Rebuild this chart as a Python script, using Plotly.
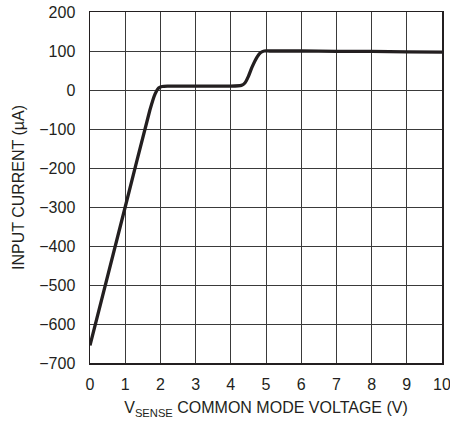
import plotly.graph_objects as go

volts = [0, 1.0, 1.7, 1.85, 1.95, 2.05, 2.2, 3.0, 4.0, 4.3, 4.4, 4.5, 4.6, 4.75, 4.85, 4.95, 5.1, 6, 7, 8, 9, 10]
current = [-655, -300, -52, -10, 5, 9, 10, 10, 10, 12, 18, 35, 58, 85, 96, 100, 100, 100, 99, 99, 98, 97]

x_ticks = list(range(0, 11))
y_ticks = [200, 100, 0, -100, -200, -300, -400, -500, -600, -700]
y_tick_text = [str(v) if v >= 0 else "\u2212" + str(-v) for v in y_ticks]

FONT = "Liberation Sans Narrow, Liberation Sans, Arial, sans-serif"

fig = go.Figure()
fig.add_trace(go.Scatter(
    x=volts, y=current, mode="lines",
    line=dict(color="#231f20", width=3.3, shape="spline", smoothing=0.5),
    showlegend=False, hoverinfo="skip",
))

fig.update_layout(
    width=450, height=423,
    margin=dict(l=90, r=8, t=12, b=60, autoexpand=False),
    paper_bgcolor="white", plot_bgcolor="white",
    font=dict(family=FONT, size=16, color="#231f20"),
    xaxis=dict(
        range=[0, 10], tickvals=x_ticks, ticktext=[str(v) for v in x_ticks],
        showgrid=True, gridcolor="#3a3a3a", gridwidth=1,
        showline=True, linecolor="#231f20", linewidth=1.5, mirror=True,
        zeroline=False, ticks="", ticklen=0, ticklabelstandoff=6,
        ticklabeloverflow="allow",
        automargin=False,
        title=dict(text="V<sub>SENSE</sub> COMMON MODE VOLTAGE (V)", font=dict(size=16), standoff=10),
        fixedrange=True,
    ),
    yaxis=dict(
        range=[-700, 200], tickvals=y_ticks, ticktext=y_tick_text,
        showgrid=True, gridcolor="#3a3a3a", gridwidth=1,
        showline=True, linecolor="#231f20", linewidth=1.5, mirror=True,
        zeroline=False, ticks="", ticklen=0, ticklabelstandoff=10,
        ticklabeloverflow="allow",
        automargin=False,
        title=dict(text="INPUT CURRENT (\u00b5A)", font=dict(size=16), standoff=10),
        fixedrange=True,
    ),
)

fig.write_html("out.html", config={"displayModeBar": False, "staticPlot": True},
               post_script="document.body.style.margin='0';document.body.style.overflow='hidden';")
